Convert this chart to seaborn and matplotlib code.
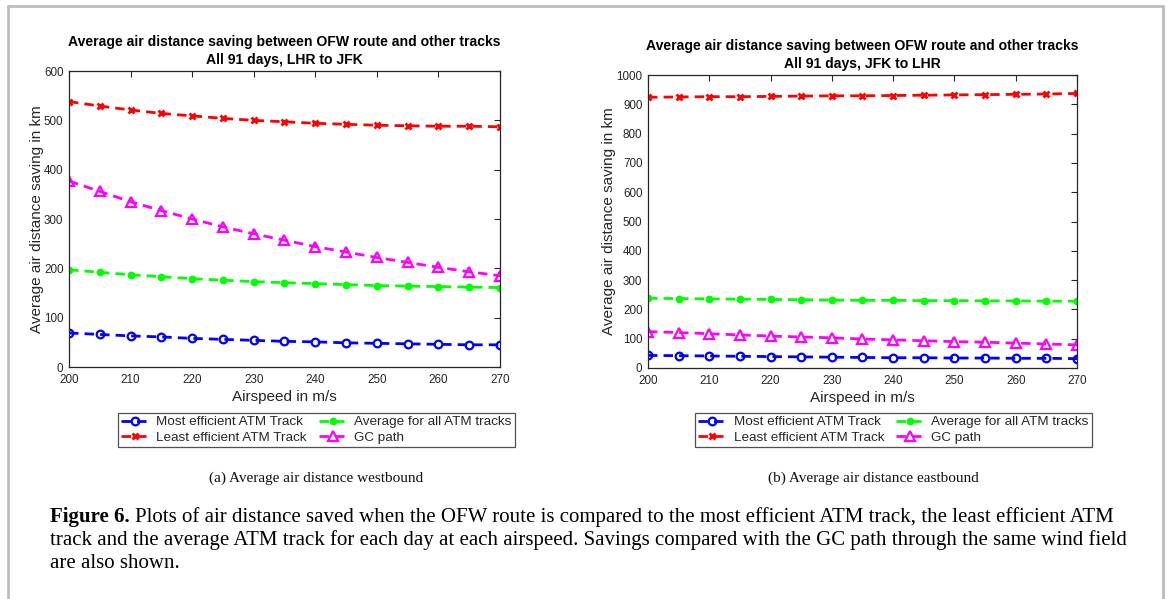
import matplotlib
matplotlib.use("Agg")
import matplotlib.pyplot as plt
import seaborn as sns
import numpy as np
from matplotlib.lines import Line2D

sns.set_theme(style="white")
plt.rcParams['font.family'] = ['Liberation Sans', 'DejaVu Sans']

airspeed = [200, 205, 210, 215, 220, 225, 230, 235, 240, 245, 250, 255, 260, 265, 270]

# Westbound (LHR to JFK)
west_most = [69, 66, 63, 61, 58, 56, 54, 52, 51, 49, 48, 47, 46, 45, 45]
west_least = [538, 529, 521, 514, 509, 504, 500, 497, 494, 492, 490, 489, 488, 488, 487]
west_avg = [197, 192, 187, 183, 179, 176, 173, 171, 169, 167, 165, 164, 163, 162, 161]
west_gc = [377, 356, 335, 317, 300, 284, 270, 257, 244, 233, 222, 212, 202, 193, 185]

# Eastbound (JFK to LHR)
east_most = [43, 42, 41, 40, 39, 38, 37, 36, 35, 35, 34, 34, 33, 33, 32]
east_least = [924, 925, 926, 926, 927, 928, 929, 929, 930, 931, 932, 933, 934, 935, 937]
east_avg = [238, 237, 236, 235, 234, 233, 232, 231, 231, 230, 230, 229, 229, 228, 228]
east_gc = [124, 121, 117, 113, 109, 106, 103, 99, 96, 93, 90, 88, 85, 82, 79]

series_labels = ["Most efficient ATM Track", "Least efficient ATM Track",
                 "Average for all ATM tracks", "GC path"]
titles = ["Average air distance saving between OFW route and other tracks\nAll 91 days, LHR to JFK",
          "Average air distance saving between OFW route and other tracks\nAll 91 days, JFK to LHR"]
subcaptions = ["(a) Average air distance westbound", "(b) Average air distance eastbound"]
x_ticks = [200, 210, 220, 230, 240, 250, 260, 270]
y_ticks_w = [0, 100, 200, 300, 400, 500, 600]
y_ticks_e = [0, 100, 200, 300, 400, 500, 600, 700, 800, 900, 1000]

W, H = 1167, 599
fig = plt.figure(figsize=(W / 100, H / 100), dpi=100)
fig.patch.set_facecolor("white")

def fx(px):
    return px / W

def fy(py):
    return 1 - py / H

ax1 = fig.add_axes([fx(69), fy(367), fx(500) - fx(69), fy(71) - fy(367)])
ax2 = fig.add_axes([fx(648), fy(368), fx(1077) - fx(648), fy(75) - fy(368)])

styles = [
    dict(color="#0000ff", marker="o", markerfacecolor="none", markeredgecolor="#0000ff",
         markersize=5.5, markeredgewidth=1.6),
    dict(color="#ff0000", marker="x", markerfacecolor="#ff0000", markeredgecolor="#ff0000",
         markersize=4.2, markeredgewidth=2.0),
    dict(color="#00ff00", marker="o", markerfacecolor="#00ff00", markeredgecolor="#00ff00",
         markersize=4.6, markeredgewidth=1),
    dict(color="#ff00ff", marker="^", markerfacecolor="none", markeredgecolor="#ff00ff",
         markersize=7, markeredgewidth=1.6),
]

def draw(ax, data, yticks, ymax, title):
    for vals, st, lab in zip(data, styles, series_labels):
        sns.lineplot(x=airspeed, y=vals, ax=ax, linestyle=(0, (3.4, 2.2)), linewidth=2,
                     label=lab, legend=False, **st)
    ax.set_xlim(200, 270)
    ax.set_ylim(0, ymax)
    ax.set_xticks(x_ticks)
    ax.set_yticks(yticks)
    ax.tick_params(direction="in", top=True, right=True, length=4, width=0.8,
                   labelsize=8.4, colors="#262626")
    ax.tick_params(axis="x", pad=5)
    ax.tick_params(axis="y", pad=4)
    for s in ax.spines.values():
        s.set_color("#262626")
        s.set_linewidth(0.9)
        s.set_visible(True)
    ax.set_xlabel("Airspeed in m/s", fontsize=11, color="#262626", labelpad=3)
    ax.set_ylabel("Average air distance saving in km", fontsize=11, color="#262626", labelpad=0)
    ax.set_title(title, fontsize=10.1, fontweight="bold", color="black", pad=5, linespacing=1.4)
    ax.grid(False)

draw(ax1, [west_most, west_least, west_avg, west_gc], y_ticks_w, 600, titles[0])
draw(ax2, [east_most, east_least, east_avg, east_gc], y_ticks_e, 1000, titles[1])

for ax, (x0, x1) in [(ax1, (117, 516)), (ax2, (694, 1093))]:
    handles, labels = ax.get_legend_handles_labels()
    leg = fig.legend(handles, labels, ncol=2, loc="center",
                     bbox_to_anchor=(fx((x0 + x1) / 2), fy(430)),
                     fontsize=9.7, frameon=True, fancybox=False, handlelength=2.0,
                     handletextpad=0.6, columnspacing=0.9, labelspacing=0.25,
                     borderpad=0.25, borderaxespad=0)
    leg.get_frame().set_edgecolor("#262626")
    leg.get_frame().set_linewidth(0.9)

fig.text(fx(316), fy(478), subcaptions[0], ha="center", va="center",
         fontsize=11, family="Liberation Serif", color="#111111")
fig.text(fx(873), fy(478), subcaptions[1], ha="center", va="center",
         fontsize=11, family="Liberation Serif", color="#111111")

cap_lines = [
    "Plots of air distance saved when the OFW route is compared to the most efficient ATM track, the least efficient ATM",
    "track and the average ATM track for each day at each airspeed. Savings compared with the GC path through the same wind field",
    "are also shown.",
]
cap_x = fx(50)
cap_fs = 15.0
t0 = fig.text(cap_x, fy(517), "Figure 6.", ha="left", va="center", fontsize=cap_fs,
              family="Liberation Serif", fontweight="bold", color="black")
fig.canvas.draw()
bb = t0.get_window_extent(renderer=fig.canvas.get_renderer())
fig.text(bb.x1 / W + fx(5), fy(517), cap_lines[0], ha="left", va="center", fontsize=cap_fs,
         family="Liberation Serif", color="black")
fig.text(cap_x, fy(540), cap_lines[1], ha="left", va="center", fontsize=cap_fs,
         family="Liberation Serif", color="black")
fig.text(cap_x, fy(563), cap_lines[2], ha="left", va="center", fontsize=cap_fs,
         family="Liberation Serif", color="black")

# page frame
frame_color = "#bdbdbd"
fig.add_artist(Line2D([fx(8), fx(8)], [fy(6), 0], transform=fig.transFigure, color=frame_color, lw=2))
fig.add_artist(Line2D([fx(1163), fx(1163)], [fy(6), 0], transform=fig.transFigure, color=frame_color, lw=2))
fig.add_artist(Line2D([fx(8), fx(1163)], [fy(6), fy(6)], transform=fig.transFigure, color=frame_color, lw=2))

fig.savefig("out.png", dpi=100, facecolor="white")
